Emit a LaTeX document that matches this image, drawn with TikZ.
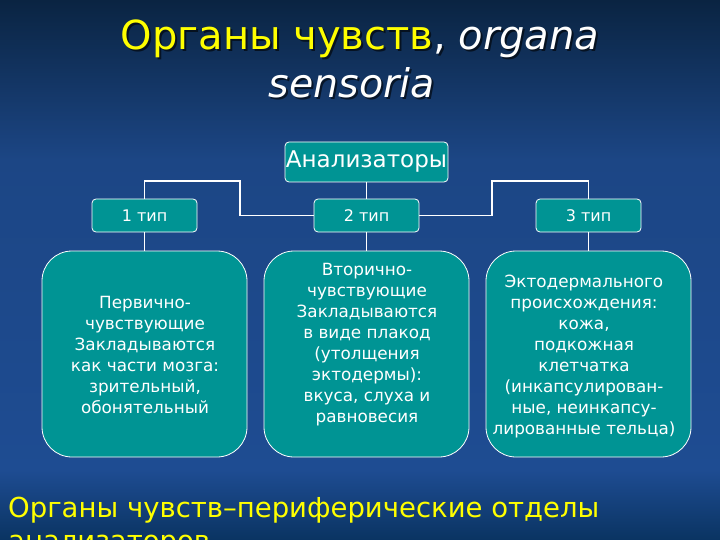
\documentclass[tikz,border=0pt]{standalone}
\usepackage{fontspec}
\setmainfont{DejaVu Sans}
\definecolor{tealbox}{RGB}{0,148,148}
\definecolor{bgtop}{RGB}{10,36,66}
\definecolor{bgmid}{RGB}{28,70,133}
\definecolor{bgmid2}{RGB}{30,76,146}
\definecolor{bgbot}{RGB}{10,52,98}
\definecolor{ttlyellow}{RGB}{255,255,0}
\tikzset{
  box/.style={draw=white, line width=0.8pt, fill=tealbox, text=white, align=center, inner sep=0pt},
  small/.style={box, rounded corners=4pt, minimum width=105pt, minimum height=33pt, font=\fontsize{16}{18}\selectfont},
  big/.style={box, rounded corners=30pt, minimum width=205pt, minimum height=206pt},
  bodytxt/.style={text=white, align=center, font=\fontsize{16.8}{21}\selectfont, inner sep=0pt},
  conn/.style={draw=white, line width=1.8pt},
  titlefont/.style={font=\fontsize{40}{44}\selectfont, inner sep=0pt, anchor=base},
  shadowtxt/.style={text=black, opacity=0.6}
}
\begin{document}
\begin{tikzpicture}[x=1pt,y=-1pt]
\useasboundingbox (0,0) rectangle (720,540);
% background
\shade[top color=bgtop, bottom color=bgmid] (0,0) rectangle (720,160);
\shade[top color=bgmid, bottom color=bgmid2] (0,160) rectangle (720,470);
\shade[top color=bgmid2, bottom color=bgbot] (0,470) rectangle (720,540);
% title
\node[titlefont, shadowtxt] (t1s) at (362,52) {Органы чувств, \itshape organa};
\node[titlefont, text=ttlyellow] (t1) at (360,50) {Органы чувств\textcolor{white}{, \itshape organa}};
\node[titlefont, shadowtxt, font=\fontsize{39.5}{44}\selectfont] (t2s) at (354,100) {\itshape sensoria};
\node[titlefont, text=white, font=\fontsize{39.5}{44}\selectfont] (t2) at (352,98) {\itshape sensoria};
% nodes
\node[box, rounded corners=4pt, minimum width=163pt, minimum height=40pt, font=\fontsize{23}{26}\selectfont] (ana) at (366.5,162) {Анализаторы};
\node[small] (p1) at (144.5,215.5) {1 тип};
\node[small] (p2) at (366.5,215.5) {2 тип};
\node[small] (p3) at (588.5,215.5) {3 тип};
% connectors
\coordinate (l1) at (240,181);
\coordinate (r1) at (492,181);
\draw[conn] (p1.north) |- (l1) |- (p2.west);
\draw[conn] (p3.north) |- (r1) |- (p2.east);
\draw[conn] (ana.south) -- (p2.north);
\node[big] (b1) at (144.5,354) {};
\node[big] (b2) at (366.5,354) {};
\node[big] (b3) at (588.5,354) {};
\draw[conn] (p1.south) -- (b1.north);
\draw[conn] (p2.south) -- (b2.north);
\draw[conn] (p3.south) -- (b3.north);
\node[bodytxt] (b1t) at (145,355)
 {Первично-\\чувствующие\\Закладываются\\как части мозга:\\зрительный,\\обонятельный};
\node[bodytxt] (b2t) at (367,345)
 {Вторично-\\чувствующие\\Закладываются\\в виде плакод\\(утолщения\\эктодермы):\\вкуса, слуха и\\равновесия};
\node[bodytxt] (b3t) at (584,357)
 {Эктодермального\\происхождения:\\кожа,\\подкожная\\клетчатка\\(инкапсулирован-\\ные, неинкапсу-\\лированные тельца)};
% bottom text
\node[anchor=base west, inner sep=0pt, text=ttlyellow, align=left, font=\fontsize{27.5}{33}\selectfont] (foot) at (8,550)
 {Органы чувств–периферические отделы\\анализаторов};
\end{tikzpicture}
\end{document}
